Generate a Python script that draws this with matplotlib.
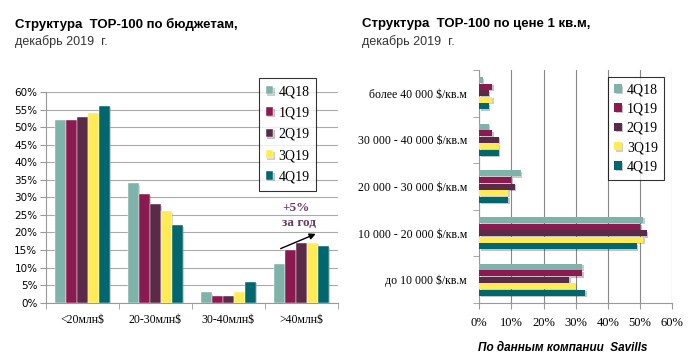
import numpy as np
import matplotlib.pyplot as plt
import matplotlib.patheffects as pe

# Data
series = ['4Q18', '1Q19', '2Q19', '3Q19', '4Q19']
colors = ['#7fb3aa', '#8b1a50', '#5a2a48', '#ffeb55', '#00676e']

budget_cats = ['<20млн$', '20-30млн$', '30-40млн$', '>40млн$']
budget_vals = [
    [52, 34, 3, 11],   # 4Q18
    [52, 31, 2, 15],   # 1Q19
    [53, 28, 2, 17],   # 2Q19
    [54, 26, 3, 17],   # 3Q19
    [56, 22, 6, 16],   # 4Q19
]

price_cats = ['более 40 000 $/кв.м', '30 000 - 40 000 $/кв.м', '20 000 - 30 000 $/кв.м',
              '10 000 - 20 000 $/кв.м', 'до 10 000 $/кв.м']
price_vals = [
    [1, 3, 13, 51, 32],   # 4Q18
    [4, 4, 10, 50, 32],   # 1Q19
    [3, 6, 11, 52, 28],   # 2Q19
    [4, 6, 9, 51, 30],    # 3Q19
    [3, 6, 9, 49, 33],    # 4Q19
]

serif = 'Liberation Serif'
shadow = [pe.SimplePatchShadow(offset=(1, -1), alpha=0.25), pe.Normal()]

fig = plt.figure(figsize=(7, 3.6), dpi=100)

# ---- left chart: budgets
ax1 = fig.add_axes([0.0653, 0.1592, 0.4176, 0.5853])
x = np.arange(len(budget_cats))
w = 0.15
for i, s in enumerate(series):
    bars = ax1.bar(x + (i - 2) * w, budget_vals[i], w, color=colors[i], label=s,
                   edgecolor='white', linewidth=0.3, zorder=3)
    for b in bars:
        b.set_path_effects(shadow)
ax1.set_xlim(-0.5, 3.5)
ax1.set_ylim(0, 60)
ax1.set_yticks(range(0, 61, 5))
ax1.set_yticklabels([f'{v}%' for v in range(0, 61, 5)], fontsize=7.5, family='DejaVu Sans')
ax1.set_xticks(x)
ax1.set_xticklabels(budget_cats, fontsize=8.5, family=serif)
ax1.set_xticks(np.arange(-0.5, 4, 1), minor=True)
ax1.tick_params(axis='x', which='major', length=0, pad=8)
ax1.tick_params(axis='x', which='minor', length=4, color='#999999')
ax1.tick_params(axis='y', length=4, color='#999999', pad=2)
ax1.grid(axis='y', color='#aaaaaa', linewidth=0.8, zorder=0)
for sp in ['top', 'right']:
    ax1.spines[sp].set_visible(False)
ax1.spines['left'].set_color('#999999')
ax1.spines['bottom'].set_color('#999999')

ax1.annotate('', xy=(3.23, 19.9), xytext=(2.68, 15.1),
             arrowprops=dict(arrowstyle='-|>', color='black', lw=1, mutation_scale=9), zorder=5)
ax1.text(2.93, 27, '+5%', ha='center', va='center', fontsize=9.5, fontweight='bold',
         family=serif, color='#6b3a62')
ax1.text(2.97, 22.8, 'за год', ha='center', va='center', fontsize=9.5, fontweight='bold',
         family=serif, color='#6b3a62')

leg1 = ax1.legend(loc='upper left', bbox_to_anchor=(0.729, 1.065), frameon=True, fancybox=False,
                  prop={'family': serif, 'size': 10}, handlelength=0.55, handleheight=0.55,
                  handletextpad=0.35, labelspacing=0.6, borderpad=0.5, borderaxespad=0)
leg1.get_frame().set_edgecolor('black')
leg1.get_frame().set_linewidth(0.8)

# ---- right chart: price per sq.m
ax2 = fig.add_axes([0.6847, 0.1583, 0.2757, 0.6472])
y = np.arange(len(price_cats))
h = 0.14
for i, s in enumerate(series):
    bars = ax2.barh(y + (i - 2) * h, price_vals[i], h * 0.92, color=colors[i], label=s, zorder=3)
    for b in bars:
        b.set_path_effects(shadow)
ax2.set_ylim(4.5, -0.5)
ax2.set_xlim(0, 60)
ax2.set_xticks(range(0, 61, 10))
ax2.set_xticklabels([f'{v}%' for v in range(0, 61, 10)], fontsize=9, family=serif)
ax2.set_yticks(y)
ax2.set_yticklabels(price_cats, fontsize=8.5, family=serif)
ax2.set_yticks(np.arange(-0.5, 5, 1), minor=True)
ax2.tick_params(axis='y', which='major', length=0, pad=9)
ax2.tick_params(axis='y', which='minor', length=4, color='#999999')
ax2.tick_params(axis='x', length=4, color='#999999', pad=6)
ax2.grid(axis='x', color='#888888', linewidth=0.8, zorder=0)
for sp in ['top', 'right']:
    ax2.spines[sp].set_visible(False)
ax2.spines['left'].set_color('#999999')
ax2.spines['bottom'].set_color('#999999')

leg2 = ax2.legend(loc='upper left', bbox_to_anchor=(0.667, 0.97), frameon=True, fancybox=False,
                  prop={'family': serif, 'size': 10}, handlelength=0.55, handleheight=0.55,
                  handletextpad=0.35, labelspacing=0.45, borderpad=0.45, borderaxespad=0)
leg2.get_frame().set_edgecolor('black')
leg2.get_frame().set_linewidth(0.8)

# ---- titles
fig.text(15 / 700, 1 - 24 / 360, 'Структура  TOP-100 по бюджетам,', fontsize=9.5,
         fontweight='bold', family='Liberation Sans', va='center')
fig.text(15 / 700, 1 - 42 / 360, 'декабрь 2019  г.', fontsize=9,
         family='Liberation Sans', va='center', color='#333333')
fig.text(362 / 700, 1 - 24 / 360, 'Структура  TOP-100 по цене 1 кв.м,', fontsize=9.5,
         fontweight='bold', family='Liberation Sans', va='center')
fig.text(362 / 700, 1 - 42 / 360, 'декабрь 2019  г.', fontsize=9,
         family='Liberation Sans', va='center', color='#333333')
fig.text(563 / 700, 1 - 348 / 360, 'По данным компании  Savills', fontsize=8.5,
         fontweight='bold', fontstyle='italic', family='Liberation Sans',
         ha='center', va='center')

fig.savefig('out.png', dpi=100)
